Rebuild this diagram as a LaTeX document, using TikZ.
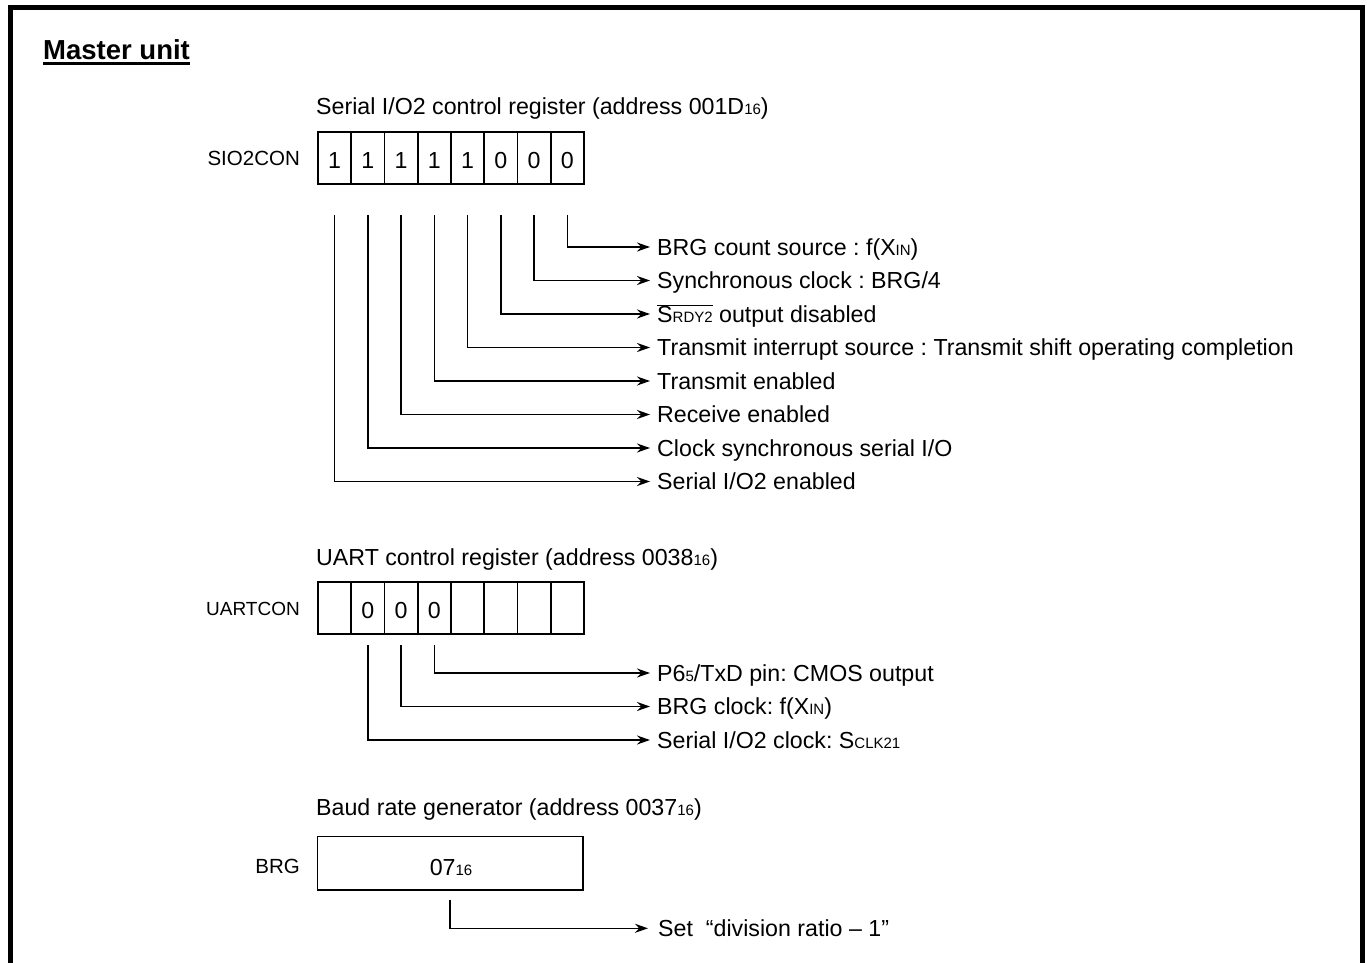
\documentclass[tikz,border=0pt]{standalone}
\usepackage{fontspec}
\setmainfont{Liberation Sans}
\usetikzlibrary{arrows.meta,calc}
\newcommand\sm[1]{{\fontsize{15}{15}\selectfont #1}}
\frenchspacing
\begin{document}
\begin{tikzpicture}[x=1pt,y=-1pt,
  txt/.style={font=\fontsize{23.2}{26}\selectfont, inner sep=0pt},
  lab/.style={txt, anchor=west, inner xsep=7pt, inner ysep=0pt, text height=16.6pt, text depth=0pt},
  regname/.style={font=\fontsize{20.5}{24}\selectfont, inner sep=0pt, anchor=east, text height=14.7pt, text depth=0pt},
  cell/.style={draw, line width=1.6pt, minimum width=33.25pt, minimum height=52pt, inner sep=0pt, font=\fontsize{23.2}{26}\selectfont, text height=20.6pt, text depth=0pt},
  conn/.style={line width=1.6pt, -{Stealth[length=13pt,width=9pt]}},
  heading/.style={txt, anchor=base west},
]
\useasboundingbox (0,0) rectangle (1367,963);
\fill[white] (0,0) rectangle (1367,963);
\draw[line width=5pt] (10.5,975) -- (10.5,7.5) -- (1362,7.5) -- (1362,975);

% title
\node[anchor=base west, inner sep=0pt, font=\bfseries\fontsize{27.5}{30}\selectfont] (title) at (43,60) {Master unit};
\draw[line width=2.2pt] ([yshift=-3.5pt]title.base west) -- ([yshift=-3.5pt]title.base east);

% SIO2CON
\node[heading] (h1) at (316,115) {Serial I/O2 control register (address 001D\sm{16})};
\node[regname] (r1) at (300,158) {SIO2CON};
\foreach \v [count=\i from 0] in {1,1,1,1,1,0,0,0}
  \node[cell] (a\i) at ({334.6+33.25*\i},158) {\v};

\node[lab] (t0) at (650,247) {BRG count source : f(X\sm{IN})};
\node[lab] (t1) at (650,280.5) {Synchronous clock : BRG/4};
\node[lab] (t2) at (650,314) {$\overline{\mbox{S\sm{RDY2}}}$ output disabled};
\node[lab] (t3) at (650,347.5) {Transmit interrupt source : Transmit shift operating completion};
\node[lab] (t4) at (650,381) {Transmit enabled};
\node[lab] (t5) at (650,414.5) {Receive enabled};
\node[lab] (t6) at (650,448) {Clock synchronous serial I/O};
\node[lab] (t7) at (650,481.5) {Serial I/O2 enabled};
\foreach \k in {0,...,7} {
  \pgfmathtruncatemacro\c{7-\k}
  \draw[conn] ($(a\c.south)+(0,30)$) |- (t\k.west);
}

% UARTCON
\node[heading] (h2) at (316,565) {UART control register (address 0038\sm{16})};
\node[regname, font=\fontsize{19}{22}\selectfont] (r2) at (300,608) {UARTCON};
\foreach \v [count=\i from 0] in {{},0,0,0,{},{},{},{}}
  \node[cell] (b\i) at ({334.6+33.25*\i},608) {\v};

\node[lab] (u0) at (650,673) {P6\sm{5}/TxD pin: CMOS output};
\node[lab] (u1) at (650,706.5) {BRG clock: f(X\sm{IN})};
\node[lab] (u2) at (650,740) {Serial I/O2 clock: S\sm{CLK21}};
\draw[conn] ($(b3.south)+(0,10)$) |- (u0.west);
\draw[conn] ($(b2.south)+(0,10)$) |- (u1.west);
\draw[conn] ($(b1.south)+(0,10)$) |- (u2.west);

% BRG
\node[heading] (h3) at (316,815) {Baud rate generator (address 0037\sm{16})};
\node[regname] (r3) at (300,866) {BRG};
\node[draw, line width=1.6pt, minimum width=265.4pt, minimum height=53.3pt, inner sep=0pt] (brg) at (450,863.3) {};
\node[txt, text height=16.6pt, text depth=0pt] (brgv) at (451,867.5) {07\sm{16}};
\node[lab, inner xsep=10pt] (v0) at (648,928.3) {Set\ \ “division ratio – 1”};
\draw[conn] ($(brg.south)+(0,9)$) |- (v0.west);
\end{tikzpicture}
\end{document}
